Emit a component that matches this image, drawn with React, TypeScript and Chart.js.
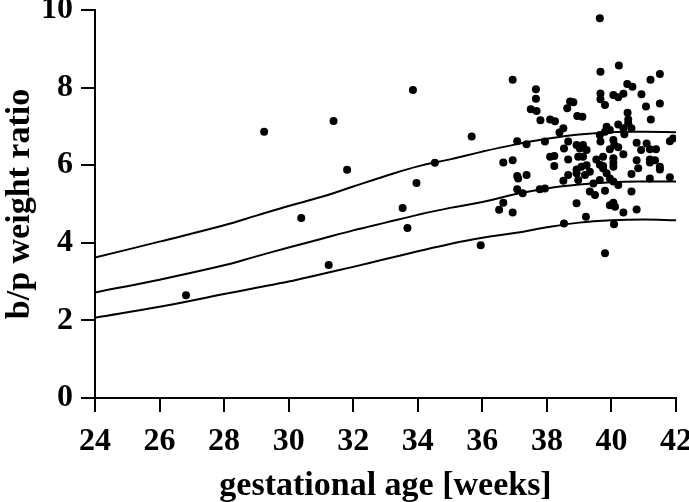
import React, { useEffect, useRef } from "react";
import { Chart, registerables } from "chart.js";

Chart.register(...registerables);

const curveWeeks = [24, 26, 28, 29, 30, 31, 32, 33, 34, 35, 36, 37, 38, 39, 40, 41, 42];
const upperCurve = [3.62, 4.03, 4.45, 4.70, 4.95, 5.18, 5.45, 5.72, 5.97, 6.15, 6.35, 6.53, 6.68, 6.79, 6.85, 6.86, 6.85];
const middleCurve = [2.72, 3.05, 3.42, 3.65, 3.88, 4.10, 4.32, 4.52, 4.72, 4.90, 5.05, 5.25, 5.40, 5.50, 5.56, 5.58, 5.58];
const lowerCurve = [2.07, 2.35, 2.68, 2.84, 3.00, 3.19, 3.38, 3.58, 3.78, 3.97, 4.13, 4.25, 4.40, 4.52, 4.58, 4.60, 4.58];

const pointWeeks = [
  26.82, 29.24, 31.39, 31.81, 30.39, 31.24, 33.53, 33.68, 33.96, 34.53, 33.85,
  36.94, 37.66, 37.66, 37.50, 37.68, 38.72, 38.63, 38.82, 38.94, 37.80, 38.10, 38.25, 38.51, 38.39,
  35.67, 37.08, 37.37, 37.94, 38.66, 38.53, 38.92, 36.65, 36.94, 38.10, 38.23, 38.66, 38.23, 38.97,
  40.23, 39.66, 41.50, 41.21, 40.49, 40.65, 39.66, 40.06, 40.21, 40.37, 40.93, 39.66, 39.80, 41.07, 41.50,
  39.10, 40.50, 41.22, 40.52, 40.52, 40.21, 39.85, 39.95, 39.80, 40.37, 40.40, 40.62, 41.91, 41.81,
  39.64, 39.66, 40.06, 40.09, 40.78, 41.09, 39.12, 39.02, 39.23, 39.95, 40.21, 40.92, 41.19, 41.38,
  39.53, 39.74, 40.06, 40.37, 40.78, 41.19, 41.35, 41.50, 39.12, 39.74, 40.06,
  37.08, 37.11, 37.37, 37.08, 37.25, 37.78, 37.94, 38.51, 38.66, 38.92, 38.92,
  36.65, 36.52, 36.94, 38.92, 38.53, 35.95,
  39.07, 39.23, 39.18, 39.33, 38.97, 39.64, 39.74, 40.06, 39.85, 39.95, 40.06, 40.21,
  39.44, 39.33, 39.49, 39.64, 39.80, 40.83, 41.19, 41.50, 40.62, 41.19, 41.81, 40.62,
  39.95, 40.06, 40.11, 40.37, 40.78, 39.21, 40.08, 39.80, 39.64,
];
const pointRatios = [
  2.65, 6.86, 7.14, 5.88, 4.64, 3.43, 4.90, 4.38, 5.54, 6.06, 7.94,
  8.20, 7.96, 7.71, 7.44, 7.40, 7.64, 7.47, 7.62, 7.27, 7.16, 7.18, 7.13, 6.95, 6.84,
  6.74, 6.62, 6.54, 6.61, 6.61, 6.43, 6.52, 6.07, 6.13, 6.22, 6.24, 6.15, 5.98, 6.22,
  8.57, 8.41, 8.35, 8.20, 8.09, 8.02, 7.85, 7.81, 7.75, 7.84, 7.83, 7.70, 7.55, 7.51, 7.59,
  7.25, 7.35, 7.18, 7.18, 7.08, 7.05, 6.99, 6.91, 6.86, 6.95, 6.80, 6.95, 6.69, 6.62,
  6.78, 6.61, 6.65, 6.52, 6.58, 6.56, 6.52, 6.43, 6.39, 6.41, 6.46, 6.39, 6.41, 6.41,
  6.15, 6.22, 6.18, 6.28, 6.13, 6.15, 6.13, 5.96, 6.22, 5.98, 5.96,
  5.72, 5.66, 5.75, 5.38, 5.28, 5.38, 5.40, 5.60, 5.75, 5.79, 5.89,
  5.03, 4.85, 4.78, 5.02, 4.50, 3.94,
  5.96, 6.00, 5.75, 5.83, 5.62, 6.01, 5.92, 6.06, 5.79, 5.66, 5.58, 5.49,
  5.53, 5.32, 5.23, 5.62, 5.34, 5.92, 6.07, 5.89, 5.77, 5.66, 5.69, 5.32,
  4.97, 5.03, 4.93, 4.78, 4.86, 4.67, 4.48, 3.73, 9.79,
];

const xTicks = [24, 26, 28, 30, 32, 34, 36, 38, 40, 42];
const yTicks = [0, 2, 4, 6, 8, 10];
const xTitle = "gestational age [weeks]";
const yTitle = "b/p weight ratio";

const FONT = "'Liberation Serif', 'Times New Roman', serif";

const zeroPad = (s: any) => {
  s.paddingTop = 0;
  s.paddingBottom = 0;
  s.paddingLeft = 0;
  s.paddingRight = 0;
};

export default function App() {
  const ref = useRef<HTMLCanvasElement | null>(null);
  useEffect(() => {
    if (!ref.current) return;
    const curve = (vals: number[]) => ({
      type: "line" as const,
      data: curveWeeks.map((w, i) => ({ x: w, y: vals[i] })),
      borderColor: "#000",
      borderWidth: 2,
      pointRadius: 0,
      tension: 0.4,
      fill: false,
    });
    const chart = new Chart(ref.current, {
      type: "scatter",
      data: {
        datasets: [
          curve(upperCurve),
          curve(middleCurve),
          curve(lowerCurve),
          {
            type: "scatter",
            data: pointWeeks.map((w, i) => ({ x: w, y: pointRatios[i] })),
            backgroundColor: "#000",
            borderColor: "#000",
            pointRadius: 4,
            borderWidth: 0,
          } as any,
        ],
      },
      options: {
        animation: false,
        responsive: false,
        maintainAspectRatio: false,
        layout: { autoPadding: false, padding: { top: 10, right: 13, left: 0, bottom: 0 } },
        plugins: { legend: { display: false }, tooltip: { enabled: false } },
        scales: {
          x: {
            type: "linear",
            min: 24,
            max: 42,
            afterBuildTicks: (s: any) => {
              s.ticks = xTicks.map((v) => ({ value: v }));
            },
            afterFit: (s: any) => {
              s.height = 104;
              zeroPad(s);
            },
            grid: { display: true, drawOnChartArea: false, drawTicks: true, tickLength: 14, color: "#000", lineWidth: 2 },
            border: { display: true, color: "#000", width: 2 },
            ticks: { color: "#000", font: { family: FONT, size: 32, weight: "bold" }, padding: 11, maxRotation: 0 },
            title: { display: true, text: xTitle, color: "#000", font: { family: FONT, size: 34, weight: "bold", lineHeight: 0.9 }, padding: { top: 0, bottom: 0 } },
          },
          y: {
            type: "linear",
            min: 0,
            max: 10,
            afterBuildTicks: (s: any) => {
              s.ticks = yTicks.map((v) => ({ value: v }));
            },
            afterFit: (s: any) => {
              s.width = 95;
              zeroPad(s);
            },
            grid: { display: true, drawOnChartArea: false, drawTicks: true, tickLength: 14, color: "#000", lineWidth: 2 },
            border: { display: true, color: "#000", width: 2 },
            ticks: { color: "#000", font: { family: FONT, size: 32, weight: "bold" }, padding: 8 },
            title: { display: true, text: yTitle, color: "#000", font: { family: FONT, size: 34, weight: "bold" }, padding: { top: 0, bottom: 0 } },
          },
        },
      },
    });
    return () => chart.destroy();
  }, []);
  return (
    <div style={{ position: "fixed", left: 0, top: 0, width: 689, height: 502, background: "#fff" }}>
      <canvas ref={ref} width={689} height={502} style={{ width: 689, height: 502 }} />
    </div>
  );
}
